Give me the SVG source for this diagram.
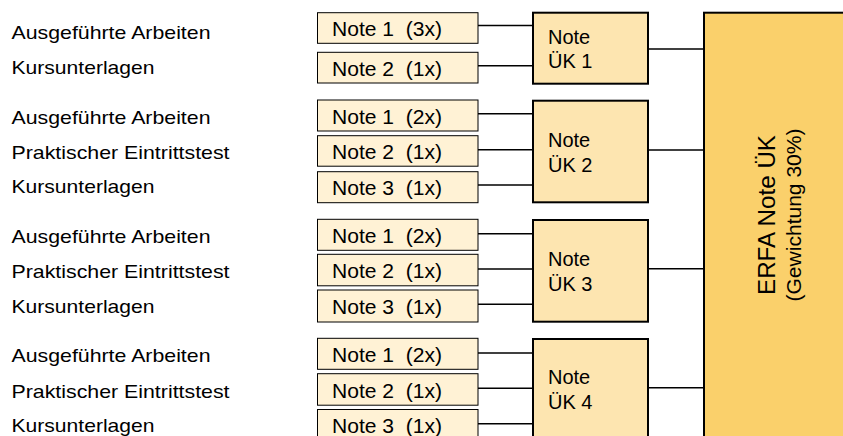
<svg xmlns="http://www.w3.org/2000/svg" width="843" height="436" viewBox="0 0 843 436">
<style>
text{font-family:"Liberation Sans",Arial,sans-serif;fill:#000;white-space:pre}
.lbl{font-size:19px}
.nt{font-size:20px}
.uk{font-size:20px}
.sb{fill:#FFF2D5;stroke:#000;stroke-width:1}
.ub{fill:#FDE5B0;stroke:#000;stroke-width:2}
.eb{fill:#FAD06B;stroke:#000;stroke-width:2}
.cn line{stroke:#000;stroke-width:1.6}
</style>
<rect width="843" height="436" fill="#fff"/>
<g id="labels">
<text class="lbl" x="11.5" y="39" textLength="199" lengthAdjust="spacingAndGlyphs">Ausgeführte Arbeiten</text>
<text class="lbl" x="11.5" y="73.5" textLength="143" lengthAdjust="spacingAndGlyphs">Kursunterlagen</text>
<text class="lbl" x="11.5" y="124" textLength="199" lengthAdjust="spacingAndGlyphs">Ausgeführte Arbeiten</text>
<text class="lbl" x="11.5" y="158.5" textLength="218" lengthAdjust="spacingAndGlyphs">Praktischer Eintrittstest</text>
<text class="lbl" x="11.5" y="193" textLength="143" lengthAdjust="spacingAndGlyphs">Kursunterlagen</text>
<text class="lbl" x="11.5" y="242.5" textLength="199" lengthAdjust="spacingAndGlyphs">Ausgeführte Arbeiten</text>
<text class="lbl" x="11.5" y="277.5" textLength="218" lengthAdjust="spacingAndGlyphs">Praktischer Eintrittstest</text>
<text class="lbl" x="11.5" y="312.5" textLength="143" lengthAdjust="spacingAndGlyphs">Kursunterlagen</text>
<text class="lbl" x="11.5" y="362" textLength="199" lengthAdjust="spacingAndGlyphs">Ausgeführte Arbeiten</text>
<text class="lbl" x="11.5" y="397.5" textLength="218" lengthAdjust="spacingAndGlyphs">Praktischer Eintrittstest</text>
<text class="lbl" x="11.5" y="432" textLength="143" lengthAdjust="spacingAndGlyphs">Kursunterlagen</text>
</g>
<g id="g1n1"><rect class="sb" x="317.5" y="12.7" width="160.5" height="30.6"/><text class="nt" x="332" y="35.5" textLength="110" lengthAdjust="spacingAndGlyphs">Note 1  (3x)</text></g>
<g id="g1n2"><rect class="sb" x="317.5" y="52.3" width="160.5" height="30.7"/><text class="nt" x="332" y="75.5" textLength="110" lengthAdjust="spacingAndGlyphs">Note 2  (1x)</text></g>
<g id="g2n1"><rect class="sb" x="317.5" y="100" width="160.5" height="31"/><text class="nt" x="332" y="123.5" textLength="110" lengthAdjust="spacingAndGlyphs">Note 1  (2x)</text></g>
<g id="g2n2"><rect class="sb" x="317.5" y="135.7" width="160.5" height="30.5"/><text class="nt" x="332" y="159" textLength="110" lengthAdjust="spacingAndGlyphs">Note 2  (1x)</text></g>
<g id="g2n3"><rect class="sb" x="317.5" y="171.7" width="160.5" height="31"/><text class="nt" x="332" y="194.5" textLength="110" lengthAdjust="spacingAndGlyphs">Note 3  (1x)</text></g>
<g id="g3n1"><rect class="sb" x="317.5" y="219.3" width="160.5" height="31"/><text class="nt" x="332" y="243" textLength="110" lengthAdjust="spacingAndGlyphs">Note 1  (2x)</text></g>
<g id="g3n2"><rect class="sb" x="317.5" y="254.3" width="160.5" height="31.5"/><text class="nt" x="332" y="278" textLength="110" lengthAdjust="spacingAndGlyphs">Note 2  (1x)</text></g>
<g id="g3n3"><rect class="sb" x="317.5" y="290" width="160.5" height="32"/><text class="nt" x="332" y="313.5" textLength="110" lengthAdjust="spacingAndGlyphs">Note 3  (1x)</text></g>
<g id="g4n1"><rect class="sb" x="317.5" y="338.3" width="160.5" height="31"/><text class="nt" x="332" y="362" textLength="110" lengthAdjust="spacingAndGlyphs">Note 1  (2x)</text></g>
<g id="g4n2"><rect class="sb" x="317.5" y="373.7" width="160.5" height="31.5"/><text class="nt" x="332" y="397.5" textLength="110" lengthAdjust="spacingAndGlyphs">Note 2  (1x)</text></g>
<g id="g4n3"><rect class="sb" x="317.5" y="409.5" width="160.5" height="40"/><text class="nt" x="332" y="432.5" textLength="110" lengthAdjust="spacingAndGlyphs">Note 3  (1x)</text></g>
<g id="uk1"><rect class="ub" x="533" y="12.7" width="115" height="71"/><text class="uk" x="548" y="44.3">Note</text><text class="uk" x="548" y="68.3">ÜK 1</text></g>
<g id="uk2"><rect class="ub" x="533" y="100.7" width="115" height="101.6"/><text class="uk" x="548" y="146.7">Note</text><text class="uk" x="548" y="171.5">ÜK 2</text></g>
<g id="uk3"><rect class="ub" x="533" y="220" width="115" height="101.7"/><text class="uk" x="548" y="265.7">Note</text><text class="uk" x="548" y="290.5">ÜK 3</text></g>
<g id="uk4"><rect class="ub" x="533" y="339" width="115" height="110"/><text class="uk" x="548" y="384.3">Note</text><text class="uk" x="548" y="409.3">ÜK 4</text></g>
<g id="erfa"><rect class="eb" x="704" y="12.7" width="150" height="440"/>
<text x="775" y="215" transform="rotate(-90 775 215)" text-anchor="middle" font-size="24" textLength="160" lengthAdjust="spacingAndGlyphs">ERFA Note ÜK</text>
<text x="801" y="215" transform="rotate(-90 801 215)" text-anchor="middle" font-size="20" textLength="173" lengthAdjust="spacingAndGlyphs">(Gewichtung 30%)</text>
</g>
<g id="connectors" class="cn">
<line x1="478" y1="25.5" x2="533" y2="25.5"/>
<line x1="478" y1="65.7" x2="533" y2="65.7"/>
<line x1="478" y1="113.7" x2="533" y2="113.7"/>
<line x1="478" y1="149.7" x2="533" y2="149.7"/>
<line x1="478" y1="185" x2="533" y2="185"/>
<line x1="478" y1="233.7" x2="533" y2="233.7"/>
<line x1="478" y1="269" x2="533" y2="269"/>
<line x1="478" y1="304.3" x2="533" y2="304.3"/>
<line x1="478" y1="353" x2="533" y2="353"/>
<line x1="478" y1="388.3" x2="533" y2="388.3"/>
<line x1="478" y1="423.7" x2="533" y2="423.7"/>
<line x1="648" y1="49" x2="704" y2="49"/>
<line x1="648" y1="150" x2="704" y2="150"/>
<line x1="648" y1="268.7" x2="704" y2="268.7"/>
<line x1="648" y1="387.7" x2="704" y2="387.7"/>
</g>
</svg>
